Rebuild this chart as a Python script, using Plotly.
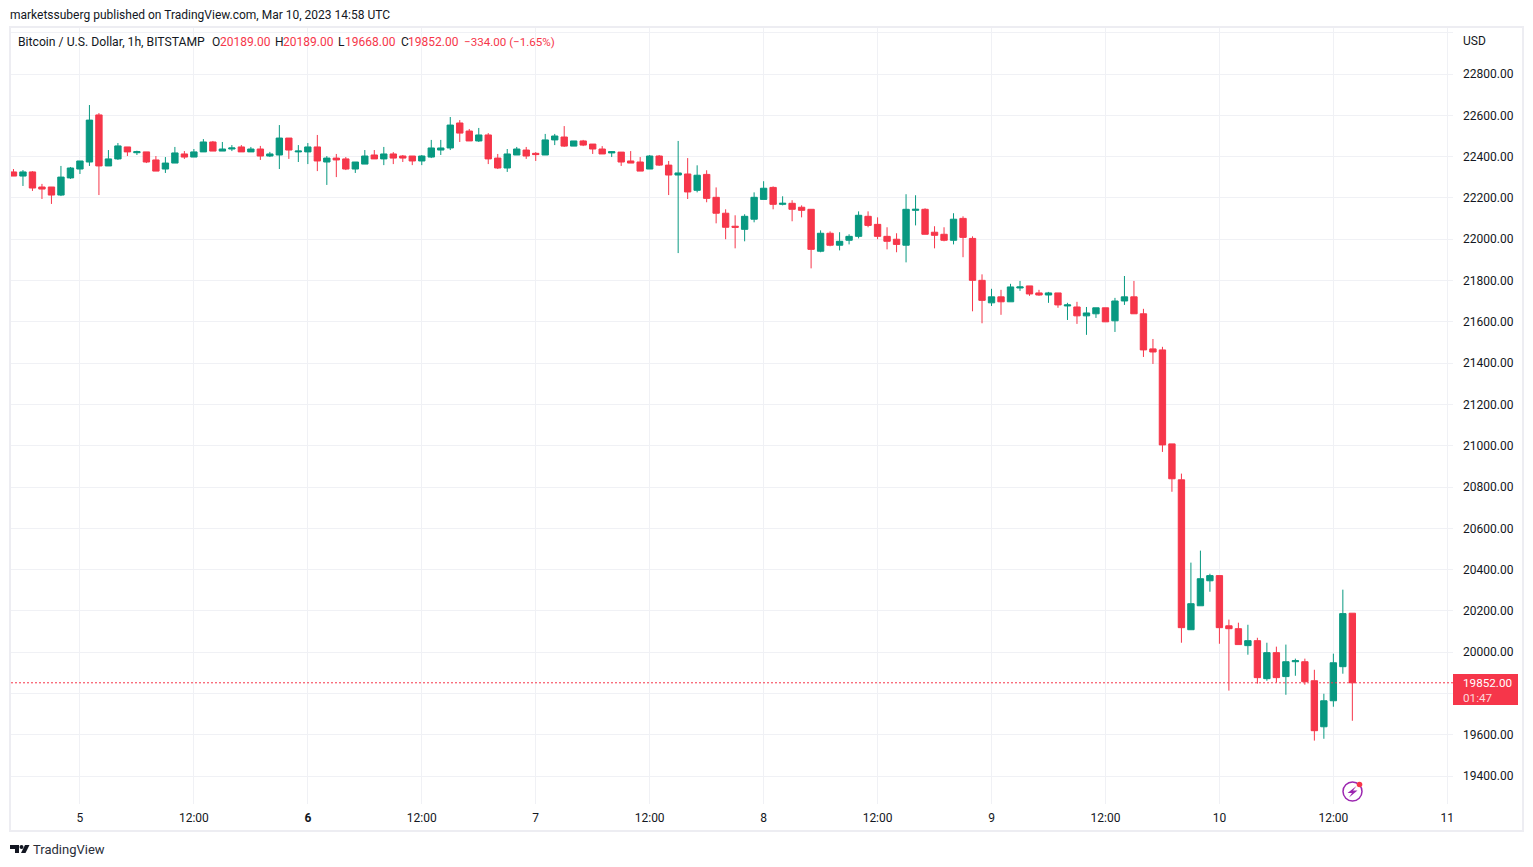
import pandas as pd
import plotly.graph_objects as go

RED = "#F6364A"
GREEN = "#089981"
GRID = "#F0F1F5"
FRAME = "#EDEDF2"
TEXT = "#131722"

times = pd.date_range("2023-03-04 17:00", periods=142, freq="h")

opens = [
    22326,22306,22326,22253,22253,22214,22297,22340,22374,22602,
    22355,22389,22447,22419,22423,22384,22340,22369,22413,22398,
    22423,22471,22427,22437,22447,22423,22437,22403,22408,22490,
    22423,22423,22447,22374,22393,22389,22340,22364,22408,22389,
    22413,22403,22403,22379,22398,22432,22442,22563,22524,22476,
    22505,22393,22345,22408,22432,22416,22408,22481,22495,22451,
    22476,22461,22437,22418,22422,22379,22374,22340,22403,22359,
    22311,22316,22237,22314,22203,22126,22063,22048,22097,22193,
    22251,22169,22174,22155,22145,21942,22029,21971,21995,22014,
    22111,22072,22014,22000,21971,22140,22145,22034,22024,21995,
    22101,22004,21801,21692,21721,21697,21764,21774,21740,21730,
    21740,21677,21672,21629,21639,21668,21605,21701,21721,21639,
    21469,21464,21009,20835,20109,20225,20346,20371,20128,20114,
    20032,20056,19872,19998,19882,19954,19954,19862,19639,19765,
    19930,20189,
]
highs = [
    22340,22335,22330,22268,22253,22355,22350,22379,22650,22611,
    22432,22466,22447,22429,22423,22403,22398,22447,22427,22437,
    22485,22476,22471,22456,22456,22447,22452,22423,22553,22490,
    22456,22466,22505,22403,22413,22398,22374,22432,22432,22447,
    22422,22408,22403,22408,22481,22481,22592,22577,22534,22539,
    22514,22413,22437,22447,22447,22422,22510,22510,22548,22476,
    22481,22461,22451,22427,22422,22427,22398,22408,22408,22379,
    22476,22393,22358,22334,22251,22145,22116,22121,22227,22281,
    22256,22208,22189,22164,22145,22043,22038,22034,22024,22135,
    22135,22106,22058,22029,22218,22213,22150,22063,22058,22126,
    22111,22014,21830,21760,21755,21784,21798,21774,21755,21745,
    21740,21692,21697,21672,21668,21668,21716,21822,21798,21663,
    21517,21479,21009,20865,20434,20492,20380,20371,20158,20143,
    20133,20070,20046,20027,20037,19969,19969,19915,19799,19993,
    20303,20189,
]
lows = [
    22306,22258,22234,22195,22171,22209,22292,22316,22355,22214,
    22355,22384,22403,22408,22369,22330,22321,22369,22389,22398,
    22423,22427,22427,22427,22423,22423,22384,22398,22340,22389,
    22374,22364,22330,22263,22301,22335,22321,22364,22389,22359,
    22364,22374,22359,22359,22393,22408,22432,22471,22476,22471,
    22364,22340,22326,22408,22389,22379,22408,22456,22447,22451,
    22451,22413,22413,22398,22355,22369,22330,22340,22355,22214,
    21933,22195,22227,22179,22077,22000,21956,21990,22082,22193,
    22145,22164,22087,22106,21859,21937,21966,21946,21975,22004,
    22058,22000,21951,21937,21888,22067,22024,21956,21990,21975,
    21913,21651,21593,21677,21634,21697,21750,21726,21726,21692,
    21668,21609,21590,21537,21619,21600,21551,21682,21639,21430,
    21396,20970,20777,20046,20109,20225,20293,20041,19814,20037,
    19988,19848,19862,19853,19794,19886,19843,19572,19581,19736,
    19896,19668,
]
closes = [
    22306,22326,22248,22243,22214,22301,22345,22379,22577,22355,
    22389,22452,22423,22424,22374,22330,22369,22418,22398,22423,
    22471,22427,22437,22442,22423,22437,22403,22413,22490,22432,
    22427,22447,22379,22393,22384,22340,22374,22403,22389,22413,
    22393,22393,22379,22403,22442,22442,22553,22514,22476,22505,
    22389,22345,22413,22437,22403,22410,22481,22500,22451,22476,
    22456,22437,22413,22424,22374,22369,22330,22403,22359,22311,
    22321,22229,22310,22198,22126,22058,22058,22111,22203,22247,
    22169,22174,22145,22140,21951,22029,21971,21990,22014,22116,
    22067,22014,21990,21975,22145,22145,22024,22019,21995,22097,
    22009,21801,21704,21721,21697,21769,21769,21735,21730,21740,
    21682,21682,21629,21643,21668,21600,21701,21721,21639,21464,
    21454,21004,20840,20119,20235,20356,20371,20119,20114,20037,
    20056,19877,19998,19877,19954,19959,19857,19620,19765,19949,
    20187,19852,
]

x_ticks = pd.date_range("2023-03-05 00:00", "2023-03-11 00:00", freq="12h")
x_labels = ["5", "12:00", "<b>6</b>", "12:00", "7", "12:00", "8", "12:00",
            "9", "12:00", "10", "12:00", "11"]
y_ticks = list(range(19400, 23200, 200))
# 19800 sits under the last price tag and 23000 under USD, so those two stay blank
y_labels = ["" if v in (19800, 23000) else f"{v}.00" for v in y_ticks]

# plot area in page pixels, everything outside is placed relative to it
LEFT, RIGHT, TOP, BOTTOM = 11, 1453, 28, 804
W, H = 1533, 867


def px(x):
    return (x - LEFT) / (RIGHT - LEFT)


def py(y):
    return (BOTTOM - y) / (BOTTOM - TOP)


def label(x, y, text, color=TEXT, size=12, anchor="left"):
    return dict(x=px(x), y=py(y), xref="paper", yref="paper", text=text, showarrow=False,
                xanchor=anchor, yanchor="middle", align="left", borderpad=0,
                font=dict(family="Roboto", size=size, color=color))


def path(d_points, fill, close=True):
    d = "M" + " L".join(f"{px(a):.5f},{py(b):.5f}" for a, b in d_points) + (" Z" if close else "")
    return dict(type="path", path=d, xref="paper", yref="paper", fillcolor=fill, line_width=0)


def circle(cx, cy, r, fill, line=None, width=0):
    return dict(type="circle", xref="paper", yref="paper", x0=px(cx - r), x1=px(cx + r),
                y0=py(cy + r), y1=py(cy - r), fillcolor=fill,
                line=dict(color=line or fill, width=width))


fig = go.Figure(go.Candlestick(
    x=times, open=opens, high=highs, low=lows, close=closes,
    whiskerwidth=0,
    increasing=dict(line=dict(color=GREEN, width=1), fillcolor=GREEN),
    decreasing=dict(line=dict(color=RED, width=1), fillcolor=RED),
))

annotations = [
    label(9, 14.5, "marketssuberg published on TradingView.com, Mar 10, 2023 14:58 UTC"),
    label(17, 42, "Bitcoin / U.S. Dollar, 1h, BITSTAMP", size=12.2),
    label(211, 42, "O"), label(219, 42, "20189.00", RED),
    label(274, 42, "H"), label(282, 42, "20189.00", RED),
    label(337, 42, "L"), label(344, 42, "19668.00", RED),
    label(400, 42, "C"), label(407, 42, "19852.00", RED),
    label(463, 42, "−334.00 (−1.65%)", RED, size=11.6),
    label(1462, 41, "USD"),
    label(1462, 682.5, "19852.00", "#FFFFFF", size=11.7),
    label(1462, 697.5, "01:47", "#FCD7DA", size=11.7),
    label(32, 849.5, "TradingView", size=13, color="#2A2E39"),
]

shapes = [
    # chart frame
    dict(type="rect", xref="paper", yref="paper", x0=px(10), x1=px(1523), y0=py(831), y1=py(27),
         line=dict(color=FRAME, width=2), fillcolor="rgba(0,0,0,0)", layer="below"),
    # last price line and its tag
    dict(type="line", xref="paper", yref="y", x0=0, x1=1, y0=closes[-1], y1=closes[-1],
         line=dict(color=RED, width=1, dash="2px,2px")),
    dict(type="rect", xref="paper", yref="paper", x0=px(1453), x1=px(1518), y0=py(705), y1=py(674),
         fillcolor=RED, line_width=0),
    # lightning badge
    circle(1352.5, 791.5, 9.5, "rgba(0,0,0,0)", "#9C27B0", 1.5),
    path([(1356.5, 786), (1347.5, 793), (1352, 793), (1349, 797.5), (1357.5, 790.5), (1353, 790.5)], "#9C27B0"),
    circle(1359.5, 784.5, 2.8, RED),
    # TradingView logo
    path([(10, 845), (19, 845), (19, 853), (15, 853), (15, 849), (10, 849)], "#131722"),
    circle(21.5, 847, 2, "#131722"),
    path([(25, 845), (29.5, 845), (25.5, 853), (21, 853)], "#131722"),
]

fig.update_layout(
    width=W, height=H,
    margin=dict(l=LEFT, r=W - RIGHT, t=TOP, b=H - BOTTOM, autoexpand=False),
    paper_bgcolor="#FFFFFF", plot_bgcolor="#FFFFFF",
    showlegend=False,
    boxgap=0.33, boxgroupgap=0,
    font=dict(family="Roboto", size=12, color=TEXT),
    annotations=annotations,
    shapes=shapes,
    xaxis=dict(
        type="date",
        range=["2023-03-04 16:44:24", "2023-03-11 00:36:00"],
        rangeslider=dict(visible=False),
        tickmode="array", tickvals=list(x_ticks), ticktext=x_labels,
        ticks="", showgrid=True, gridcolor=GRID, gridwidth=1, zeroline=False, showline=False,
        ticklabelstandoff=5, tickangle=0,
    ),
    yaxis=dict(
        side="right",
        range=[19265, 23023],
        tickmode="array", tickvals=y_ticks, ticktext=y_labels,
        ticks="", showgrid=True, gridcolor=GRID, gridwidth=1, zeroline=False, showline=False,
        ticklabelstandoff=9,
    ),
)

fig.write_html("out.html", config=dict(displayModeBar=False), post_script="document.body.style.margin='0';")
